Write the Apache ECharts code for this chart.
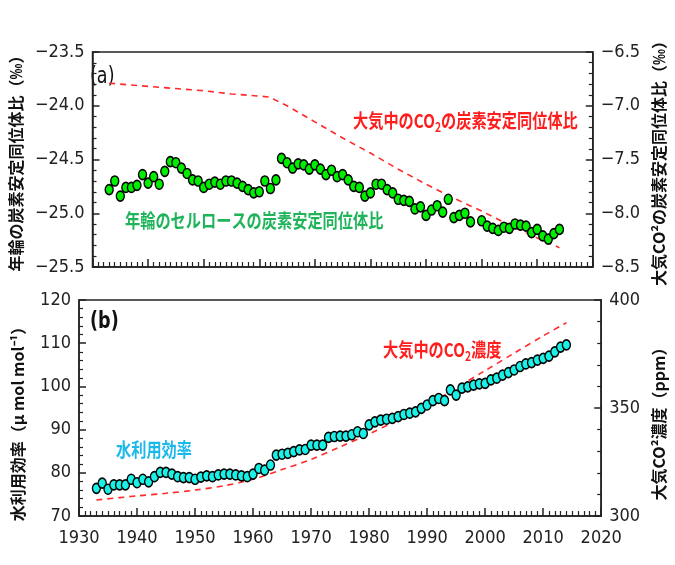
<!DOCTYPE html>
<html><head><meta charset="utf-8">
<script src="https://cdn.jsdelivr.net/npm/echarts@6/dist/echarts.min.js"></script>
<style>html,body{margin:0;padding:0;background:#fff}#c{width:675px;height:565px}</style>
</head><body><div id="c"></div><script>
// ---- data ----
const ringYears = [1933,1934,1935,1936,1937,1938,1939,1940,1941,1942,1943,1944,1945,1946,1947,1948,1949,1950,1951,1952,1953,1954,1955,1956,1957,1958,1959,1960,1961,1962,1963,1964,1965,1966,1967,1968,1969,1970,1971,1972,1973,1974,1975,1976,1977,1978,1979,1980,1981,1982,1983,1984,1985,1986,1987,1988,1989,1990,1991,1992,1993,1994,1995,1996,1997,1998,1999,2000,2001,2002,2003,2004,2005,2006,2007,2008,2009,2010,2011,2012,2013,2014];
const ringD13C = [-24.78,-24.70,-24.84,-24.76,-24.76,-24.74,-24.64,-24.72,-24.66,-24.73,-24.61,-24.52,-24.53,-24.58,-24.63,-24.69,-24.70,-24.76,-24.73,-24.71,-24.73,-24.70,-24.70,-24.72,-24.75,-24.78,-24.81,-24.80,-24.70,-24.77,-24.69,-24.49,-24.53,-24.58,-24.54,-24.55,-24.59,-24.55,-24.59,-24.64,-24.60,-24.66,-24.64,-24.69,-24.75,-24.76,-24.84,-24.81,-24.73,-24.73,-24.78,-24.81,-24.87,-24.88,-24.89,-24.96,-24.94,-25.02,-24.97,-24.93,-24.99,-24.87,-25.04,-25.02,-25.00,-25.08,null,-25.07,-25.12,-25.14,-25.16,-25.13,-25.14,-25.10,-25.11,-25.12,-25.18,-25.15,-25.21,-25.24,-25.19,-25.15];
const wueValues = [76.4,77.6,76.2,77.2,77.2,77.2,78.5,77.7,78.5,77.9,79.1,80.1,80.1,79.7,79.1,78.9,78.9,78.5,79.0,79.3,79.1,79.5,79.7,79.7,79.5,79.3,79.1,79.7,81.0,80.6,81.8,84.1,84.3,84.5,84.9,85.3,85.4,86.4,86.4,86.4,88.2,88.4,88.5,88.5,88.8,89.5,89.1,91.1,91.8,92.2,92.4,92.6,93.0,93.5,93.8,94.1,94.9,95.7,96.7,97.2,96.7,99.2,98.0,99.6,99.9,100.3,100.6,100.7,101.5,101.9,102.6,103.2,103.8,104.6,105.2,105.5,106.1,106.5,107.0,108.0,109.1,109.6];
const atmYears = [1933,1940,1945,1950,1955,1960,1962,1963,1965,1970,1975,1980,1985,1990,1995,2000,2005,2010,2014];
const atmD13C = [-6.79,-6.82,-6.84,-6.86,-6.89,-6.91,-6.92,-6.95,-7.00,-7.15,-7.30,-7.44,-7.59,-7.73,-7.86,-7.98,-8.11,-8.23,-8.32];
const co2Years = [1933,1940,1945,1950,1955,1960,1965,1970,1975,1980,1985,1990,1995,2000,2005,2010,2014];
const co2Ppm = [307.4,309.3,310.5,312.0,314.0,317.0,321.5,326.2,332.0,338.0,344.5,351.2,359.3,367.3,375.4,383.4,389.5];
const xRange = [1930, 2020, 10];
const ringRange = [-25.5, -23.5, 0.5];
const atmRange = [-8.5, -6.5, 0.5];
const wueRange = [70, 120, 10];
const co2Range = [300, 400, 50];

// ---- chart ----
const numFont = '"Liberation Sans Narrow","DejaVu Sans Condensed","Arial Narrow","Liberation Sans",sans-serif';
const jpFont = '"Noto Sans CJK JP",sans-serif';
const axisCol = '#222';
const pair = (xs, ys) => xs.map((x, i) => [x, ys[i]]);
const minus = d => v => (v < 0 ? '\u2212' : '') + Math.abs(v).toFixed(d);

function xAx(grid, labels) {
  return {
    gridIndex: grid, type: 'value', min: xRange[0], max: xRange[1], interval: xRange[2],
    axisLine: {show: true, lineStyle: {color: axisCol, width: 1.5}},
    axisTick: {show: true, inside: true, length: 8, lineStyle: {color: axisCol, width: 1.5}},
    minorTick: {show: true, splitNumber: 10, length: 5, lineStyle: {color: axisCol, width: 1.2}},
    splitLine: {show: false},
    axisLabel: {show: labels, margin: 13, color: '#222', fontSize: 18, fontFamily: numFont,
                formatter: v => String(v)}
  };
}
function yAx(grid, pos, r, dec, name, gap, rot, pad) {
  return {
    gridIndex: grid, type: 'value', position: pos, min: r[0], max: r[1], interval: r[2],
    name: name, nameLocation: 'middle', nameGap: gap, nameRotate: rot,
    nameTextStyle: {fontFamily: jpFont, fontWeight: 'bold', fontSize: 16, color: '#111', padding: pad},
    axisLine: {show: true, onZero: false, lineStyle: {color: axisCol, width: 1.5}},
    axisTick: {show: true, inside: true, length: 7, lineStyle: {color: axisCol, width: 1.5}},
    minorTick: {show: true, splitNumber: 5, length: 4, lineStyle: {color: axisCol, width: 1.2}},
    splitLine: {show: false},
    axisLabel: {margin: 8, color: '#222', fontSize: 18, fontFamily: numFont, formatter: minus(dec)}
  };
}

const chart = echarts.init(document.getElementById('c'), null, {renderer: 'canvas'});
chart.setOption({
  animation: false,
  backgroundColor: '#fff',
  grid: [
    {left: 79, right: 60, top: 52, height: 215, show: true, borderColor: axisCol, borderWidth: 1.5},
    {left: 79, right: 60, top: 300, height: 216, show: true, borderColor: axisCol, borderWidth: 1.5}
  ],
  xAxis: [xAx(0, false), xAx(1, true)],
  yAxis: [
    yAx(0, 'left', ringRange, 1, '年輪の炭素安定同位体比（‰）', 53, 90, [0,0,0,0]),
    yAx(0, 'right', atmRange, 1, '大気CO²の炭素安定同位体比（‰）', 40, 90, [0,0,0,0]),
    yAx(1, 'left', wueRange, 0, '水利用効率（μ mol mol⁻¹）', 53, 90, [0,24,0,0]),
    yAx(1, 'right', co2Range, 0, '大気CO²濃度（ppm）', 40, 90, [0,24,0,0])
  ],
  series: [
    {type: 'line', xAxisIndex: 0, yAxisIndex: 1, data: pair(atmYears, atmD13C), symbol: 'none',
     lineStyle: {color: '#ff2a2a', width: 1.6, type: [6, 5]}, z: 2},
    {type: 'scatter', xAxisIndex: 0, yAxisIndex: 0, data: pair(ringYears, ringD13C), symbol: 'circle',
     symbolSize: [8, 10], itemStyle: {color: '#00ee00', borderColor: '#000', borderWidth: 1.5, opacity: 1}, z: 3},
    {type: 'line', xAxisIndex: 1, yAxisIndex: 3, data: pair(co2Years, co2Ppm), symbol: 'none', smooth: 0.3,
     lineStyle: {color: '#ff2a2a', width: 1.6, type: [6, 5]}, z: 2},
    {type: 'scatter', xAxisIndex: 1, yAxisIndex: 2, data: pair(ringYears, wueValues), symbol: 'circle',
     symbolSize: [8, 10], itemStyle: {color: '#19f0e6', borderColor: '#000', borderWidth: 1.5, opacity: 1}, z: 3}
  ],
  graphic: [
    {type: 'text', x: 90, y: 77, scaleX: 0.85, style: {text: '(a)', font: '23px ' + numFont, fill: '#111', textVerticalAlign: 'middle'}},
    {type: 'text', x: 90, y: 322, scaleX: 0.85, style: {text: '(b)', font: 'bold 23px ' + numFont, fill: '#111', textVerticalAlign: 'middle'}},
    {type: 'text', x: 353, y: 121, scaleX: 0.8, style: {
      text: '{a|大気中のCO}{s|2}{a|の炭素安定同位体比}', textVerticalAlign: 'middle',
      rich: {a: {fontSize: 19, fontFamily: jpFont, fontWeight: 'bold', fill: '#ff1e1e'},
             s: {fontSize: 13, fontFamily: jpFont, fontWeight: 'bold', fill: '#ff1e1e', verticalAlign: 'bottom', lineHeight: 26}}}},
    {type: 'text', x: 125, y: 221, scaleX: 0.8, style: {
      text: '年輪のセルロースの炭素安定同位体比', textVerticalAlign: 'middle',
      font: 'bold 19px ' + jpFont, fill: '#1fb45a'}},
    {type: 'text', x: 116, y: 450, scaleX: 0.8, style: {
      text: '水利用効率', textVerticalAlign: 'middle', font: 'bold 19px ' + jpFont, fill: '#1cb8ea'}},
    {type: 'text', x: 383, y: 350, scaleX: 0.8, style: {
      text: '{a|大気中のCO}{s|2}{a|濃度}', textVerticalAlign: 'middle',
      rich: {a: {fontSize: 19, fontFamily: jpFont, fontWeight: 'bold', fill: '#ff1e1e'},
             s: {fontSize: 13, fontFamily: jpFont, fontWeight: 'bold', fill: '#ff1e1e', verticalAlign: 'bottom', lineHeight: 26}}}}
  ]
});
</script></body></html>
